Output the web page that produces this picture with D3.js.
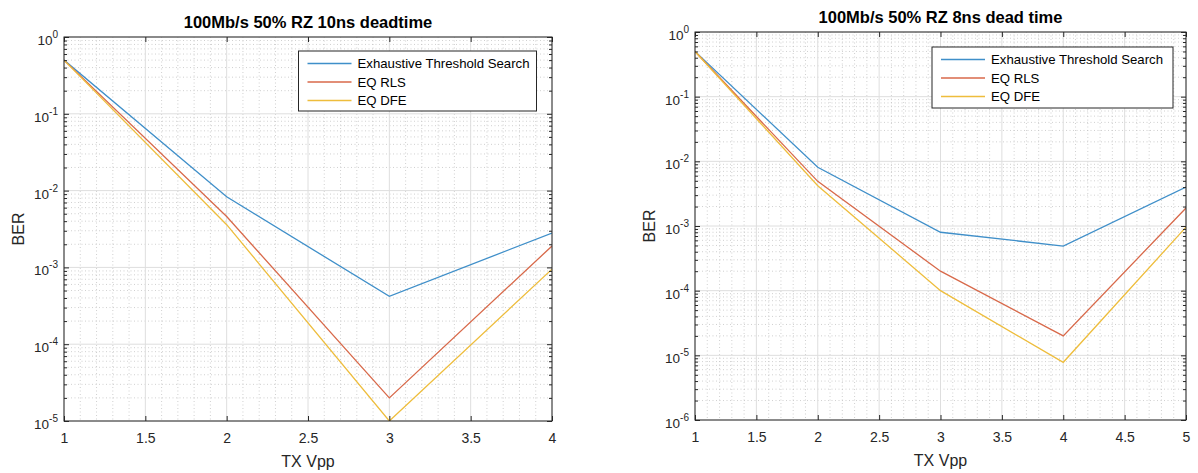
<!DOCTYPE html>
<html>
<head>
<meta charset="utf-8">
<script src="https://cdn.jsdelivr.net/npm/d3@7"></script>
<style>
  html, body { margin: 0; padding: 0; background: #fff; }
  svg { display: block; font-family: "Liberation Sans", Arial, Helvetica, sans-serif; }
</style>
</head>
<body>
<svg id="chart" width="1198" height="473"></svg>
<script>
// BER vs transmit amplitude for three receivers, two dead-time settings
const seriesNames = ["Exhaustive Threshold Search", "EQ RLS", "EQ DFE"];
const seriesColors = ["#3f8fc9", "#d8694a", "#eebd3c"];

// 10 ns dead time
const vpp10 = [1, 2, 3, 4];
const ets10 = [0.5, 8.3e-3, 4.2e-4, 2.8e-3];
const rls10 = [0.5, 4.6e-3, 2.0e-5, 1.9e-3];
const dfe10 = [0.5, 3.6e-3, 1.0e-5, 9.5e-4];
const xTicks10 = [1, 1.5, 2, 2.5, 3, 3.5, 4];
const yExp10 = [0, -1, -2, -3, -4, -5];

// 8 ns dead time
const vpp8 = [1, 2, 3, 4, 5];
const ets8 = [0.5, 8.1e-3, 8.0e-4, 4.9e-4, 4.0e-3];
const rls8 = [0.5, 4.9e-3, 2.0e-4, 2.0e-5, 1.9e-3];
const dfe8 = [0.5, 4.2e-3, 1.0e-4, 7.8e-6, 9.6e-4];
const xTicks8 = [1, 1.5, 2, 2.5, 3, 3.5, 4, 4.5, 5];
const yExp8 = [0, -1, -2, -3, -4, -5, -6];

const svg = d3.select("#chart");
const axisColor = "#262626";

function panel(cfg) {
  const { box, title, titleY, xs, ys, xTicks, yExps, legend, id } = cfg;
  const g = svg.append("g");
  const x = d3.scaleLinear().domain(d3.extent(xTicks)).range([box.left, box.right]);
  const yMin = Math.pow(10, d3.min(yExps)), yMax = Math.pow(10, d3.max(yExps));
  const y = d3.scaleLog().domain([yMin, yMax]).range([box.bottom, box.top]);

  // minor grid values
  const xMinor = d3.range(Math.round((x.domain()[1] - x.domain()[0]) / 0.1) + 1)
    .map(i => x.domain()[0] + i * 0.1)
    .filter(v => !xTicks.some(t => Math.abs(t - v) < 1e-6));
  const yMinor = [];
  yExps.slice(1).forEach(e => { for (let k = 2; k <= 9; k++) yMinor.push(k * Math.pow(10, e)); });

  const grid = g.append("g");
  // dotted minor grid
  grid.selectAll(".xm").data(xMinor).join("line")
    .attr("x1", d => x(d)).attr("x2", d => x(d))
    .attr("y1", box.top).attr("y2", box.bottom)
    .attr("stroke", "#c4c4c4").attr("stroke-width", 0.8).attr("stroke-dasharray", "1,2.5");
  grid.selectAll(".ym").data(yMinor).join("line")
    .attr("x1", box.left).attr("x2", box.right)
    .attr("y1", d => y(d)).attr("y2", d => y(d))
    .attr("stroke", "#c4c4c4").attr("stroke-width", 0.8).attr("stroke-dasharray", "1,2.5");
  // solid major grid
  grid.selectAll(".xM").data(xTicks).join("line")
    .attr("x1", d => x(d)).attr("x2", d => x(d))
    .attr("y1", box.top).attr("y2", box.bottom)
    .attr("stroke", "#dedede").attr("stroke-width", 1);
  grid.selectAll(".yM").data(yExps.map(e => Math.pow(10, e))).join("line")
    .attr("x1", box.left).attr("x2", box.right)
    .attr("y1", d => y(d)).attr("y2", d => y(d))
    .attr("stroke", "#dedede").attr("stroke-width", 1);

  // series
  g.append("clipPath").attr("id", "clip" + id).append("rect")
    .attr("x", box.left).attr("y", box.top - 1)
    .attr("width", box.right - box.left).attr("height", box.bottom - box.top + 1);
  const line = d3.line().x(d => x(d[0])).y(d => y(d[1]));
  ys.forEach((vals, i) => {
    g.append("path")
      .datum(xs.map((v, j) => [v, vals[j]]))
      .attr("clip-path", `url(#clip${id})`)
      .attr("fill", "none").attr("stroke", seriesColors[i]).attr("stroke-width", 1.3)
      .attr("d", line);
  });

  // axes: bottom/left with labels, top/right ticks only, ticks point inward
  const yTickVals = yExps.map(e => Math.pow(10, e));
  const bottom = g.append("g").attr("transform", `translate(0,${box.bottom})`)
    .call(d3.axisBottom(x).tickValues(xTicks).tickSizeInner(-5).tickSizeOuter(0).tickPadding(12)
      .tickFormat(d3.format("")));
  const top = g.append("g").attr("transform", `translate(0,${box.top})`)
    .call(d3.axisTop(x).tickValues(xTicks).tickSizeInner(-5).tickSizeOuter(0).tickFormat(""));
  const left = g.append("g").attr("transform", `translate(${box.left},0)`)
    .call(d3.axisLeft(y).tickValues(yTickVals).tickSizeInner(-5).tickSizeOuter(0).tickFormat(""));
  const right = g.append("g").attr("transform", `translate(${box.right},0)`)
    .call(d3.axisRight(y).tickValues(yTickVals).tickSizeInner(-5).tickSizeOuter(0).tickFormat(""));
  const leftMinor = g.append("g").attr("transform", `translate(${box.left},0)`)
    .call(d3.axisLeft(y).tickValues(yMinor).tickSizeInner(-3).tickSizeOuter(0).tickFormat(""));
  const rightMinor = g.append("g").attr("transform", `translate(${box.right},0)`)
    .call(d3.axisRight(y).tickValues(yMinor).tickSizeInner(-3).tickSizeOuter(0).tickFormat(""));
  [bottom, top, left, right, leftMinor, rightMinor].forEach(a => {
    a.select(".domain").remove();
    a.selectAll(".tick line").attr("stroke", axisColor).attr("stroke-width", 1);
  });
  bottom.selectAll(".tick text").attr("fill", axisColor).attr("font-size", 14)
    .attr("font-family", "Liberation Sans, Arial, sans-serif");

  // power-of-ten labels on the y axis
  const yl = g.append("g");
  yExps.forEach(e => {
    const t = yl.append("text")
      .attr("x", box.left - 6).attr("y", y(Math.pow(10, e)) + 8)
      .attr("text-anchor", "end").attr("fill", axisColor).attr("font-size", 13.5);
    t.append("tspan").text("10");
    t.append("tspan").attr("dy", -7).attr("font-size", 10).text(String(e));
  });

  // frame
  g.append("rect").attr("x", box.left).attr("y", box.top)
    .attr("width", box.right - box.left).attr("height", box.bottom - box.top)
    .attr("fill", "none").attr("stroke", axisColor).attr("stroke-width", 1);

  // title and axis labels
  g.append("text").attr("x", (box.left + box.right) / 2).attr("y", titleY)
    .attr("text-anchor", "middle").attr("font-weight", "bold").attr("font-size", 16.5)
    .attr("fill", "#000").text(title);
  g.append("text").attr("x", (box.left + box.right) / 2).attr("y", box.bottom + 46)
    .attr("text-anchor", "middle").attr("font-size", 16).attr("fill", axisColor).text("TX Vpp");
  g.append("text")
    .attr("transform", `translate(${box.left - 40},${(box.top + box.bottom) / 2}) rotate(-90)`)
    .attr("text-anchor", "middle").attr("font-size", 16).attr("fill", axisColor).text("BER");

  // legend
  const lg = g.append("g");
  lg.append("rect").attr("x", legend.x).attr("y", legend.y)
    .attr("width", legend.w).attr("height", legend.h)
    .attr("fill", "#fff").attr("stroke", axisColor).attr("stroke-width", 1);
  seriesNames.forEach((name, i) => {
    const cy = legend.y + 12.5 + i * 18.5;
    lg.append("line").attr("x1", legend.x + 9).attr("x2", legend.x + 53)
      .attr("y1", cy).attr("y2", cy)
      .attr("stroke", seriesColors[i]).attr("stroke-width", 1.3);
    lg.append("text").attr("x", legend.x + 59).attr("y", cy + 4.5)
      .attr("font-size", 13.2).attr("fill", "#000").text(name);
  });
}

panel({
  id: "a",
  box: { left: 64, right: 552, top: 37, bottom: 421 },
  title: "100Mb/s 50% RZ 10ns deadtime", titleY: 28,
  xs: vpp10, ys: [ets10, rls10, dfe10],
  xTicks: xTicks10, yExps: yExp10,
  legend: { x: 298.5, y: 51, w: 238, h: 60 }
});

panel({
  id: "b",
  box: { left: 695, right: 1186, top: 32, bottom: 420 },
  title: "100Mb/s 50% RZ 8ns dead time", titleY: 23,
  xs: vpp8, ys: [ets8, rls8, dfe8],
  xTicks: xTicks8, yExps: yExp8,
  legend: { x: 932, y: 47, w: 241, h: 61 }
});
</script>
</body>
</html>
